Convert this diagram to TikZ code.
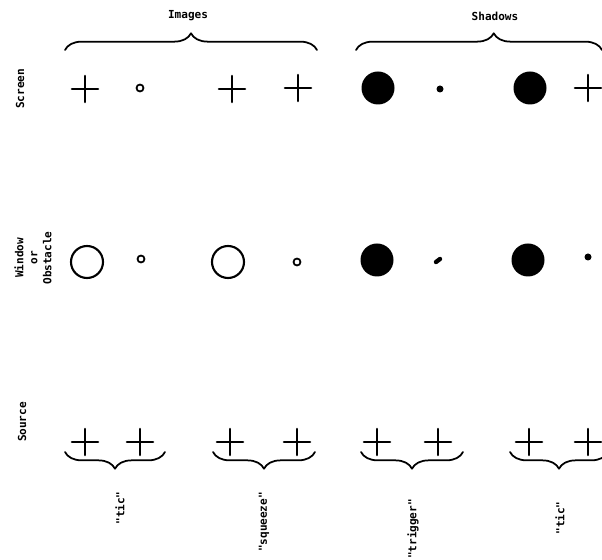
\documentclass[tikz,border=0pt]{standalone}
\usepackage{fontspec}
\setmonofont{DejaVu Sans Mono}
\usetikzlibrary{decorations.pathreplacing}
\tikzset{
	lbl/.style={font=\fontsize{6.3}{8}\selectfont\ttfamily\bfseries, inner sep=0pt, align=center},
	brc/.style={decorate, decoration={brace, amplitude=9.5pt, aspect=#1}, line width=1pt},
	brc/.default=.5,
	crs/.pic={\draw[line width=1.5pt] (-13,0)--(13,0) (0,-13)--(0,13);},
}
\begin{document}
\begin{tikzpicture}[x=.02cm, y=-.02cm, line join=round, line cap=round]
	\useasboundingbox (0,0) rectangle (602,560);
	% nhãn trên và trái
	\node[lbl] (img) at (188,16) {Images};
	\node[lbl] (shd) at (495,16) {Shadows};
	\node[lbl, rotate=90] (scr) at (20,89) {Screen};
	\node[lbl, rotate=90] (win) at (33,258) {Window\\or\\Obstacle};
	\node[lbl, rotate=90] (src) at (22,422) {Source};
	\draw[brc] (65,50)--(317,50);
	\draw[brc=.56] (356,50)--(602,50);
	% màn
	\pic at (85,89) {crs};
	\draw[line width=1pt] (140,88) circle (3.5);
	\pic at (232,89) {crs};
	\pic at (298,88) {crs};
	\fill (378,88) circle (16.5);
	\fill (440,89) circle (3.5);
	\fill (530,88) circle (16.5);
	\pic at (588,88) {crs};
	% cửa sổ / vật cản
	\draw[line width=1.2pt] (87,262) circle (16);
	\draw[line width=1pt] (141,259) circle (3.5);
	\draw[line width=1.2pt] (228,262) circle (16);
	\draw[line width=1pt] (297,262) circle (3.5);
	\fill (377,260) circle (16.5);
	\draw[line width=2.5pt] (436,262)--(440,259);
	\fill (528,260) circle (16.5);
	\fill (588,257) circle (3.5);
	% nguồn
	\foreach \x in {85,140,230,297,377,438,529,588}
		\pic at (\x,442) {crs};
	\draw[brc] (165,452)--(65,452);
	\draw[brc] (315,452)--(213,452);
	\draw[brc] (463,452)--(361,452);
	\draw[brc] (608,452)--(510,452);
	\node[lbl, rotate=90] (t1) at (120,508) {"tic"};
	\node[lbl, rotate=90] (t2) at (264,522) {"squeeze"};
	\node[lbl, rotate=90] (t3) at (413,529) {"trigger"};
	\node[lbl, rotate=90] (t4) at (560,518) {"tic"};
\end{tikzpicture}
\end{document}
